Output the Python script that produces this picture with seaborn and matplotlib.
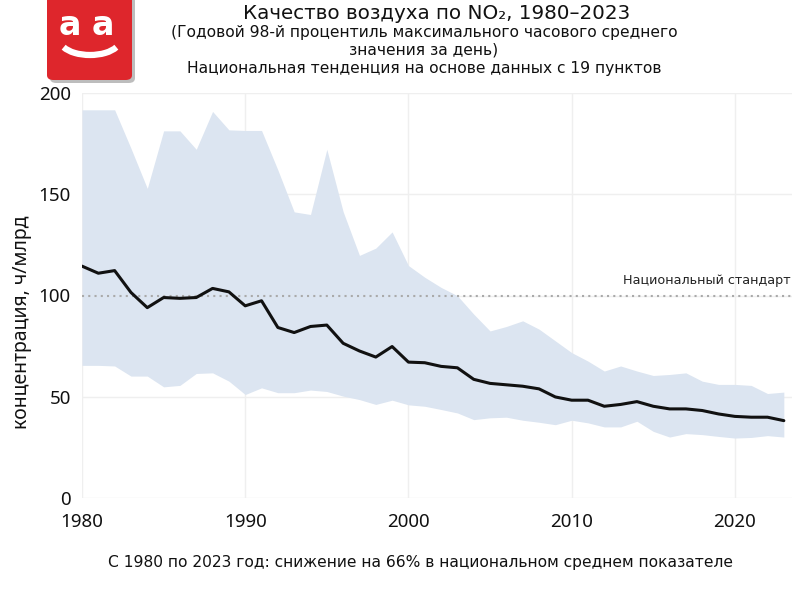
import numpy as np
import pandas as pd
import matplotlib
matplotlib.use("Agg")
import matplotlib.pyplot as plt
import seaborn as sns
from matplotlib.patches import FancyBboxPatch, Arc

years = list(range(1980, 2024))
mean_vals = [114.5, 111, 112.3, 101.5, 94, 99, 98.6, 99, 103.5, 101.8,
             94.9, 97.4, 84.2, 81.7, 84.7, 85.4, 76.4, 72.6, 69.6, 74.8,
             67.1, 66.8, 65, 64.3, 58.6, 56.6, 55.9, 55.2, 53.9, 49.9,
             48.3, 48.3, 45.3, 46.2, 47.6, 45.3, 44.0, 44.0, 43.2, 41.5,
             40.3, 39.9, 39.9, 38.2]
upper_vals = [191.7, 191.7, 191.7, 172.7, 152.9, 181.3, 181.3, 172.2, 190.9, 181.8,
              181.5, 181.5, 162, 141.3, 140, 172.2, 141.4, 119.8, 123.4, 131.4,
              114.8, 109, 104, 99.9, 90.8, 82.5, 84.7, 87.5, 83.4, 77.6,
              71.8, 67.6, 62.7, 65.2, 62.7, 60.5, 61, 61.8, 57.7, 56.1,
              56.1, 55.6, 51.6, 52.3]
lower_vals = [65.5, 65.5, 65.2, 60.2, 60.2, 54.9, 55.6, 61.5, 61.8, 57.7,
              51.1, 54.4, 52, 52, 53.3, 52.6, 50.3, 48.6, 46.2, 48.3,
              46, 45.3, 43.7, 42, 38.7, 39.6, 39.9, 38.4, 37.4, 36.2,
              38.4, 37.1, 35.1, 35.1, 37.9, 32.9, 30.1, 31.8, 31.3, 30.4,
              29.6, 29.9, 30.8, 30.1]
standard = 100
x_ticks = [1980, 1990, 2000, 2010, 2020]
y_ticks = [0, 50, 100, 150, 200]

title = "Качество воздуха по NO₂, 1980–2023"
subtitle1 = "(Годовой 98-й процентиль максимального часового среднего"
subtitle2 = "значения за день)"
subtitle3 = "Национальная тенденция на основе данных с 19 пунктов"
y_label = "концентрация, ч/млрд"
std_label = "Национальный стандарт"
footer = "С 1980 по 2023 год: снижение на 66% в национальном среднем показателе"

df = pd.DataFrame({"year": years, "mean": mean_vals,
                   "upper": upper_vals, "lower": lower_vals})

sns.set_style("white")
plt.rcParams['font.family'] = ['DejaVu Sans']

fig = plt.figure(figsize=(8, 6), dpi=100)
ax = fig.add_axes([0.1025, 0.17, 0.8875, 0.675])

ax.fill_between(df["year"], df["lower"], df["upper"], color="#dce5f1", lw=0, zorder=1)
sns.lineplot(data=df, x="year", y="mean", color="#111111", lw=2.2, ax=ax, zorder=3)
ax.axhline(standard, color="#aaaaaa", lw=1.5, ls=(0, (1, 2)), zorder=2)
ax.text(2023.4, standard + 4, std_label, ha="right", va="bottom",
        fontsize=9.2, color="#222222", family="DejaVu Sans")

ax.set_xlim(1980, 2023.5)
ax.set_ylim(0, 200)
ax.set_xticks(x_ticks)
ax.set_yticks(y_ticks)
ax.grid(True, color="#efefef", lw=1, zorder=0)
ax.set_axisbelow(True)
for s in ax.spines.values():
    s.set_visible(False)
ax.tick_params(axis="both", length=0, labelsize=13.5, colors="#111111")
ax.tick_params(axis="x", pad=11)
ax.tick_params(axis="y", pad=8)
for lab in ax.get_xticklabels() + ax.get_yticklabels():
    lab.set_family("Noto Sans")
ax.set_xlabel("")
ax.set_ylabel(y_label, fontsize=14, family="Noto Sans", color="#111111")
ax.yaxis.set_label_coords(-0.07, 0.435)

fig.text(0.546, 0.978, title, ha="center", va="center", fontsize=14.3, color="#111111")
fig.text(0.53, 0.946, subtitle1, ha="center", va="center", fontsize=11.2, color="#111111")
fig.text(0.53, 0.916, subtitle2, ha="center", va="center", fontsize=11.2, color="#111111")
fig.text(0.53, 0.886, subtitle3, ha="center", va="center", fontsize=11.2, color="#111111")
fig.text(0.525, 0.0617, footer, ha="center", va="center", fontsize=11.2, color="#111111")

# logo
W, H = 800, 600
def fx(px): return px / W
def fy(py): return 1 - py / H
shadow = FancyBboxPatch((fx(50), fy(83)), fx(85), 90 / H,
                        boxstyle="round,pad=0,rounding_size=0.008",
                        transform=fig.transFigure, fc="#bdbdbd", ec="none", zorder=5)
fig.patches.append(shadow)
logo = FancyBboxPatch((fx(47), fy(80)), fx(85), 90 / H,
                      boxstyle="round,pad=0,rounding_size=0.008",
                      transform=fig.transFigure, fc="#de262c", ec="none", zorder=6)
fig.patches.append(logo)
fig.text(fx(70), fy(35), "a", ha="center", va="baseline", fontsize=24,
         fontweight="bold", color="white", zorder=7, family="DejaVu Sans")
fig.text(fx(103), fy(35), "a", ha="center", va="baseline", fontsize=24,
         fontweight="bold", color="white", zorder=7, family="DejaVu Sans")
smile = Arc((fx(90), fy(40)), fx(60), 30 / H, theta1=200, theta2=340,
            transform=fig.transFigure, color="white", lw=4.5, zorder=7)
fig.patches.append(smile)

fig.savefig("out.png", dpi=100)
